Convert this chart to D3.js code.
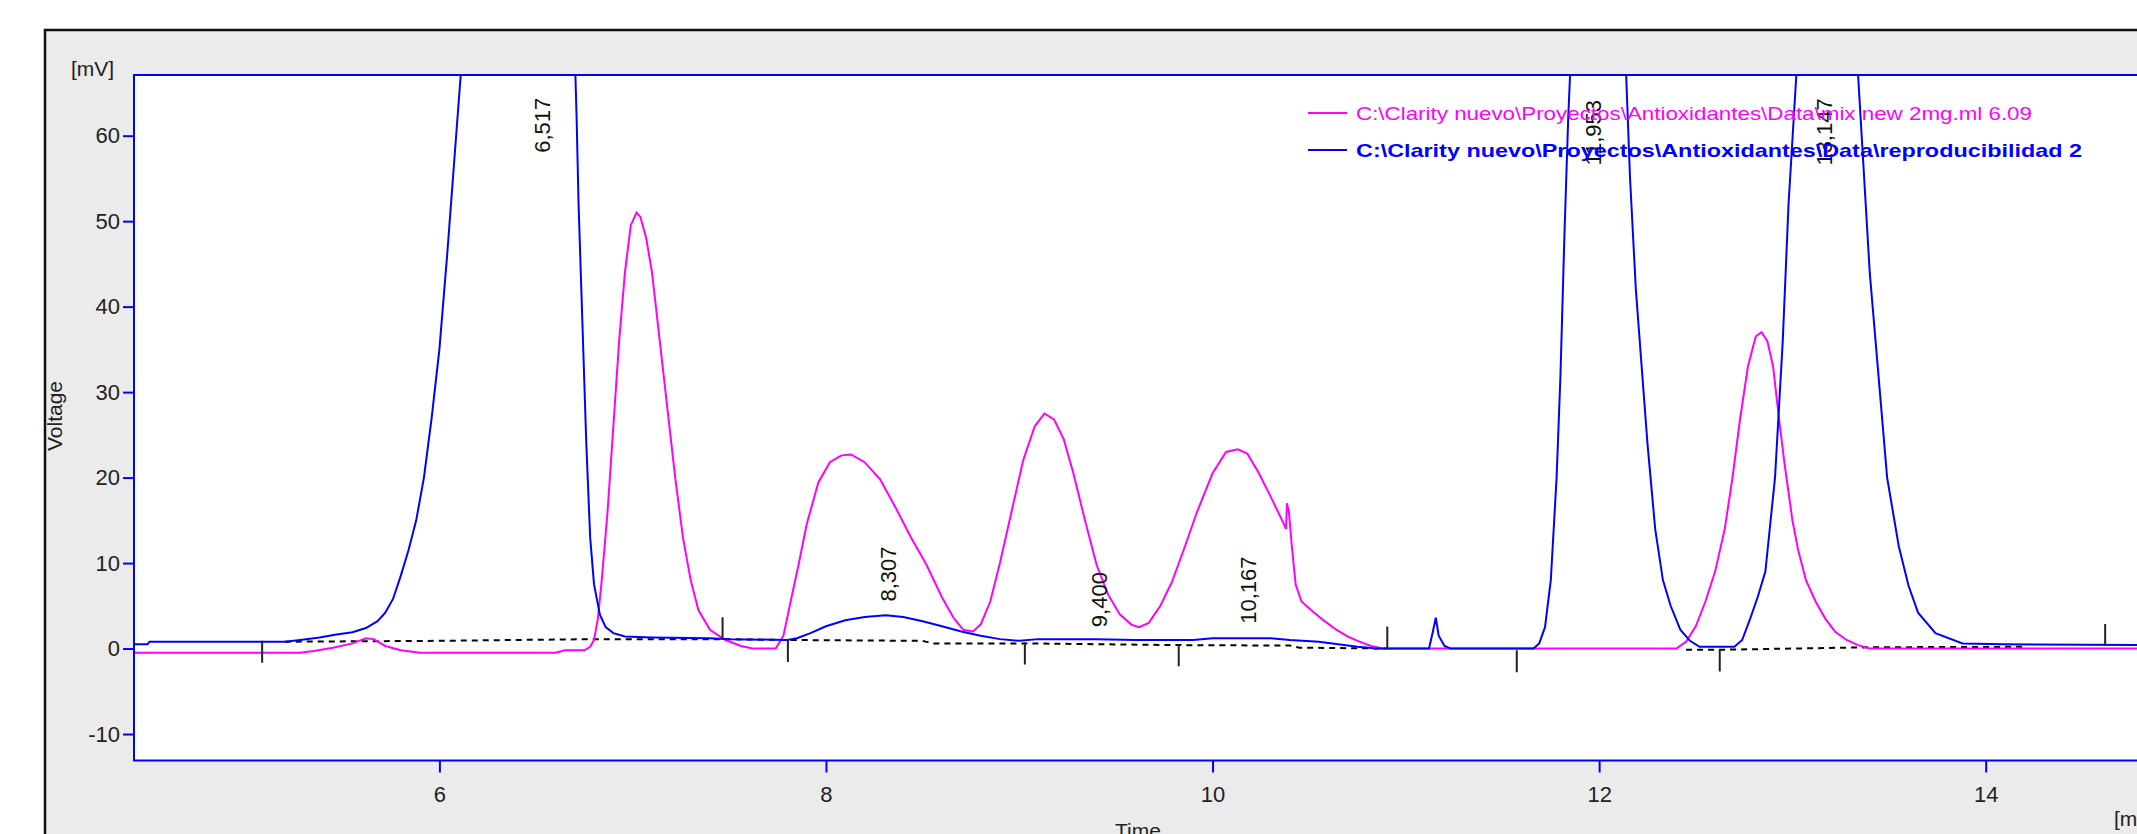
<!DOCTYPE html>
<html>
<head>
<meta charset="utf-8">
<script src="https://cdn.jsdelivr.net/npm/d3@7"></script>
<style>
  body { margin: 0; background: #fff; }
  svg { display: block; font-family: "Liberation Sans", Arial, sans-serif; }
</style>
</head>
<body>
<svg width="2137" height="834"></svg>
<script>
// blue trace: reproducibilidad 2 (time in min, voltage in mV)
const tBlue = [4.42, 4.49, 4.50, 5.20, 5.28, 5.38, 5.46, 5.55, 5.62, 5.68, 5.72, 5.76, 5.80, 5.84, 5.88, 5.92, 5.96, 6.00, 6.04, 6.08, 6.11,
  6.20, 6.35, 6.517, 6.62, 6.68, 6.70, 6.71, 6.72, 6.74, 6.76, 6.78, 6.80, 6.83, 6.86, 6.90, 6.96, 7.10, 7.40, 7.50, 7.80,
  7.85, 7.92, 8.00, 8.10, 8.20, 8.31, 8.40, 8.50, 8.60, 8.70, 8.80, 8.90, 9.00, 9.10, 9.40, 9.60, 9.90, 10.00, 10.30, 10.40,
  10.55, 10.65, 10.75, 10.85, 11.12, 11.14, 11.155, 11.17, 11.20, 11.23, 11.66, 11.69, 11.72, 11.75, 11.78, 11.80, 11.82, 11.84, 11.855,
  11.90, 11.953, 12.05, 12.14, 12.16, 12.19, 12.22, 12.25, 12.29, 12.33, 12.37, 12.42, 12.47, 12.52, 12.70, 12.74, 12.78, 12.82, 12.86,
  12.91, 12.95, 12.98, 13.02, 13.08, 13.147, 13.25, 13.34, 13.40, 13.46, 13.49, 13.55, 13.60, 13.65, 13.74, 13.88, 14.09, 14.85];
const vBlue = [0.5, 0.5, 0.8, 0.8, 1.0, 1.3, 1.6, 1.9, 2.4, 3.2, 4.2, 5.8, 8.5, 11.5, 15, 20, 27, 35, 46, 58, 67,
  100, 160, 200, 150, 90, 70, 62, 52, 38, 24, 13, 7.5, 4.0, 2.5, 1.8, 1.4, 1.3, 1.2, 1.1, 1.0,
  1.2, 1.8, 2.6, 3.3, 3.7, 3.9, 3.7, 3.2, 2.6, 2.0, 1.5, 1.1, 0.9, 1.1, 1.1, 1.0, 1.0, 1.2, 1.2, 1.0,
  0.8, 0.5, 0.2, 0.0, 0.0, 2.0, 3.6, 1.5, 0.3, 0.0, 0.0, 0.6, 2.5, 8, 20, 32, 48, 62, 70,
  100, 115, 95, 67, 55, 42, 33, 24, 14, 8, 5, 2.2, 0.9, 0.2, 0.2, 1.0, 3.4, 6, 9,
  20, 36, 52, 67, 90, 100, 85, 67, 44, 28, 20, 12, 7.4, 4.2, 1.8, 0.6, 0.5, 0.4];

// pink trace: mix new 2mg.ml 6.09
const tPink = [4.42, 5.28, 5.35, 5.45, 5.55, 5.62, 5.66, 5.72, 5.80, 5.90, 6.60, 6.65, 6.75, 6.78, 6.80, 6.82, 6.84, 6.87, 6.90, 6.93,
  6.96, 6.99, 7.02, 7.04, 7.07, 7.10, 7.14, 7.18, 7.22, 7.26, 7.30, 7.34, 7.40, 7.48, 7.56, 7.62, 7.74, 7.78, 7.82, 7.86,
  7.90, 7.96, 8.02, 8.08, 8.13, 8.20, 8.28, 8.36, 8.44, 8.52, 8.60, 8.66, 8.71, 8.76, 8.80, 8.85, 8.90, 8.96, 9.02, 9.08,
  9.13, 9.18, 9.23, 9.28, 9.34, 9.40, 9.46, 9.52, 9.58, 9.62, 9.67, 9.73, 9.79, 9.85, 9.92, 10.00, 10.07, 10.13, 10.18, 10.24,
  10.30, 10.36, 10.38, 10.385, 10.395, 10.41, 10.43, 10.46, 10.52, 10.58, 10.64, 10.70, 10.76, 10.82, 10.88, 12.40, 12.45, 12.50, 12.55, 12.60,
  12.65, 12.69, 12.73, 12.77, 12.81, 12.84, 12.87, 12.90, 12.93, 12.96, 13.00, 13.03, 13.07, 13.12, 13.17, 13.22, 13.28, 13.34, 13.40, 14.85];
const vPink = [-0.5, -0.5, -0.3, 0.1, 0.6, 1.2, 1.1, 0.3, -0.2, -0.5, -0.5, -0.2, -0.2, 0.2, 1.0, 3.5, 8, 16, 26, 36,
  44, 49.5, 51, 50.5, 48, 44, 36, 28, 20, 13, 8, 4.5, 2.2, 1.0, 0.3, 0.0, 0.0, 1.5, 5.8, 10,
  14.5, 19.4, 21.8, 22.6, 22.7, 21.8, 19.8, 16.5, 13, 9.8, 6, 3.6, 2.2, 2.0, 2.8, 5.5, 10, 16, 22, 26,
  27.5, 26.8, 24.5, 20.5, 15, 9.8, 6.3, 4, 2.8, 2.5, 3, 5, 7.8, 11.5, 16, 20.5, 23, 23.3, 22.8, 20.5,
  17.8, 15, 14, 17, 16, 12, 7.5, 5.5, 4.3, 3.2, 2.2, 1.4, 0.8, 0.3, 0.0, 0.0, 0.8, 2.6, 5.5, 9,
  14, 20, 27, 33, 36.5, 37, 36, 33, 27, 21.5, 15, 11.5, 8, 5.5, 3.5, 2, 1, 0.4, 0, 0];

// dashed integration baseline (NaN = gap)
const tBase = [5.20, 6.00, 6.80, 7.45, 7.80, 8.50, 8.55, 9.03, 9.82, 10.40, 10.45, 10.90, 11.0, 12.45, 12.62, 13.40, 14.20];
const vBase = [0.8, 0.9, 1.1, 1.1, 1.0, 0.9, 0.6, 0.6, 0.4, 0.35, 0.1, 0.0, NaN, -0.15, -0.15, 0.15, 0.2];

// peak start/end markers
const markT = [5.083, 7.465, 7.803, 9.029, 9.825, 10.904, 11.574, 12.624, 14.618];
const markV = [0.9, 1.1, 1.0, 0.7, 0.5, 0.0, -0.2, -0.1, 0.3];
const markUp = [false, true, false, false, false, true, false, false, true];

// retention time labels
const peakT = [6.517, 8.307, 9.400, 10.167, 11.953, 13.147];
const peakLabel = ['6,517', '8,307', '9,400', '10,167', '11,953', '13,147'];
const peakLabelV = [58, 5.5, 2.5, 2.9, 56.5, 56.5];

const xTicks = [6, 8, 10, 12, 14];
const yTicks = [-10, 0, 10, 20, 30, 40, 50, 60];

const legendNames = ['C:\\Clarity nuevo\\Proyectos\\Antioxidantes\\Data\\mix new 2mg.ml 6.09',
                     'C:\\Clarity nuevo\\Proyectos\\Antioxidantes\\Data\\reproducibilidad 2'];
const legendColors = ['#ff00ff', '#0000ff'];

const svg = d3.select('svg');
const margin = {top: 75, left: 134, right: 2150, bottom: 760.5};

// grey panel with black frame
svg.append('rect')
  .attr('x', 45).attr('y', 30)
  .attr('width', 2300).attr('height', 1000)
  .attr('fill', '#ebebeb')
  .attr('stroke', '#111').attr('stroke-width', 2.5);

const x = d3.scaleLinear().domain([4.42, 14.85]).range([margin.left, margin.right]);
const y = d3.scaleLinear().domain([-13.1, 67.1]).range([margin.bottom, margin.top]);

svg.append('rect')
  .attr('x', margin.left).attr('y', margin.top)
  .attr('width', margin.right - margin.left).attr('height', margin.bottom - margin.top)
  .attr('fill', '#fff');

svg.append('clipPath').attr('id', 'plotclip')
  .append('rect')
  .attr('x', margin.left).attr('y', margin.top)
  .attr('width', margin.right - margin.left).attr('height', margin.bottom - margin.top);

const plot = svg.append('g').attr('clip-path', 'url(#plotclip)');

// baseline dashed
const baseLine = d3.line()
  .defined((d, i) => !isNaN(vBase[i]))
  .x((d, i) => x(tBase[i]))
  .y((d, i) => y(vBase[i]));
plot.append('path')
  .attr('d', baseLine(tBase))
  .attr('fill', 'none')
  .attr('stroke', '#000')
  .attr('stroke-width', 2)
  .attr('stroke-dasharray', '6,5');

const pinkLine = d3.line().x((d, i) => x(tPink[i])).y((d, i) => y(vPink[i]));
plot.append('path')
  .attr('d', pinkLine(tPink))
  .attr('fill', 'none')
  .attr('stroke', '#ff00ff')
  .attr('stroke-width', 2);

const blueLine = d3.line().x((d, i) => x(tBlue[i])).y((d, i) => y(vBlue[i]));
plot.append('path')
  .attr('d', blueLine(tBlue))
  .attr('fill', 'none')
  .attr('stroke', '#0000ff')
  .attr('stroke-width', 2);

// peak markers
plot.selectAll('line.mark')
  .data(markT)
  .enter()
  .append('line')
  .attr('class', 'mark')
  .attr('x1', d => x(d)).attr('x2', d => x(d))
  .attr('y1', (d, i) => y(markV[i]))
  .attr('y2', (d, i) => y(markV[i]) + (markUp[i] ? -22 : 22))
  .attr('stroke', '#222')
  .attr('stroke-width', 2);

// peak labels (rotated)
plot.selectAll('text.peak')
  .data(peakT)
  .enter()
  .append('text')
  .attr('class', 'peak')
  .attr('transform', (d, i) => 'translate(' + (x(d) + 3) + ',' + y(peakLabelV[i]) + ') rotate(-90)')
  .attr('dy', '0.35em')
  .attr('font-size', 22)
  .attr('fill', '#111')
  .text((d, i) => peakLabel[i]);

// axes
const xAxis = svg.append('g')
  .attr('transform', 'translate(0,' + margin.bottom + ')')
  .call(d3.axisBottom(x).tickValues(xTicks).tickSize(12).tickPadding(14).tickFormat(d => String(d)));
const yAxis = svg.append('g')
  .attr('transform', 'translate(' + margin.left + ',0)')
  .call(d3.axisLeft(y).tickValues(yTicks).tickSize(11).tickPadding(3).tickFormat(d => String(d)));

[xAxis, yAxis].forEach(a => {
  a.select('.domain').remove();
  a.selectAll('line').attr('stroke', '#0000ff').attr('stroke-width', 2);
  a.selectAll('text').attr('font-size', 22).attr('fill', '#222')
    .attr('font-family', '"Liberation Sans", Arial, sans-serif');
});

// plot border
svg.append('rect')
  .attr('x', margin.left).attr('y', margin.top)
  .attr('width', margin.right - margin.left).attr('height', margin.bottom - margin.top)
  .attr('fill', 'none')
  .attr('stroke', '#0000ff')
  .attr('stroke-width', 2);

// axis titles
svg.append('text').attr('x', 71).attr('y', 76).attr('font-size', 21).attr('fill', '#222').text('[mV]');
svg.append('text')
  .attr('transform', 'translate(62,416) rotate(-90)')
  .attr('text-anchor', 'middle')
  .attr('font-size', 21).attr('fill', '#222')
  .text('Voltage');
svg.append('text').attr('x', 1138).attr('y', 838).attr('text-anchor', 'middle')
  .attr('font-size', 21).attr('fill', '#222').text('Time');
svg.append('text').attr('x', 2114).attr('y', 826).attr('font-size', 21).attr('fill', '#222').text('[min]');

// legend
const legend = svg.append('g');
legendNames.forEach((name, i) => {
  const ly = 113 + i * 37;
  legend.append('line')
    .attr('x1', 1308).attr('x2', 1347)
    .attr('y1', ly).attr('y2', ly)
    .attr('stroke', legendColors[i]).attr('stroke-width', 2);
  legend.append('text')
    .attr('x', 1356).attr('y', ly)
    .attr('dy', '0.35em')
    .attr('font-size', 19)
    .attr('font-weight', i == 1 ? 'bold' : 'normal')
    .attr('fill', legendColors[i])
    .attr('textLength', i == 1 ? 726 : 676)
    .attr('lengthAdjust', 'spacingAndGlyphs')
    .text(name);
});
</script>
</body>
</html>
